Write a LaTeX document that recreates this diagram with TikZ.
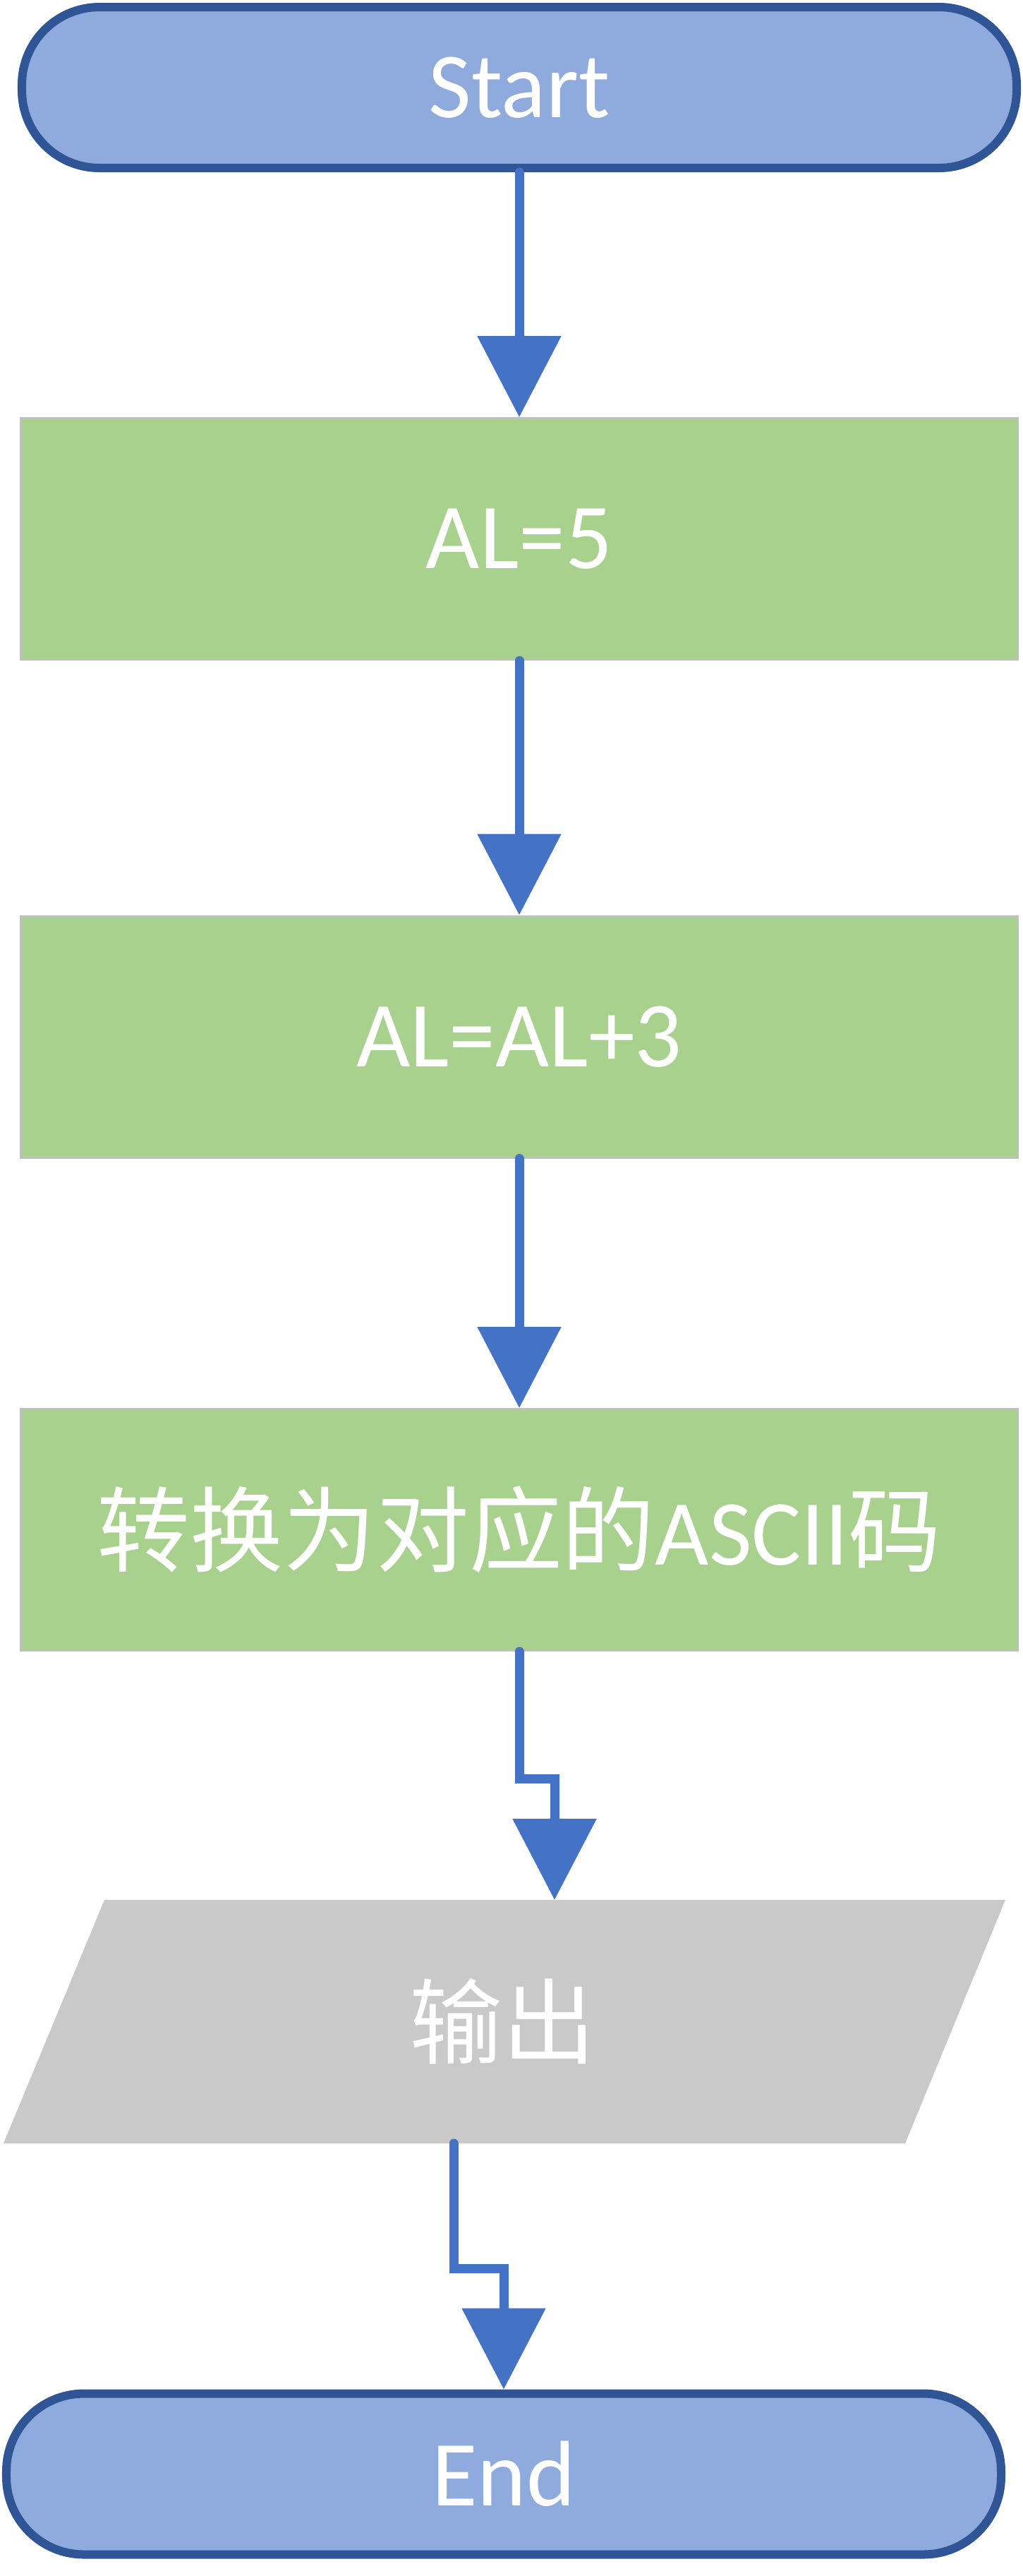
\documentclass[tikz,border=0pt]{standalone}
\usepackage{fontspec}
\setmainfont{Carlito}
\newfontfamily\cjk{Noto Sans CJK SC}
\usetikzlibrary{arrows.meta}
\definecolor{termfill}{HTML}{8FAADC}
\definecolor{termline}{HTML}{2F5597}
\definecolor{flowline}{HTML}{4472C4}
\definecolor{procfill}{HTML}{A9D18E}
\definecolor{procline}{HTML}{BFBFBF}
\definecolor{iofill}{HTML}{C9C9C9}
\begin{document}
\begin{tikzpicture}[every node/.style={text=white,font=\fontsize{37.5}{45}\selectfont},
term/.style={draw=termline,fill=termfill,line width=.12cm,rounded corners=1.1cm,minimum width=14.1cm,minimum height=2.28cm},
proc/.style={draw=procline,fill=procfill,line width=.03cm,minimum width=14.13cm,minimum height=3.42cm},
flow/.style={draw=flowline,line width=.13cm,line cap=round,-{Triangle[width=1.16cm,length=1.15cm]}}]
\useasboundingbox(0,0)rectangle(14.5,-36.5);
\node[term](start)at(7.36,-1.24){Start};
\node[proc](al5)at(7.36,-7.635){AL=5};\node[proc](al3)at(7.36,-14.69){AL=AL+3};\node[proc](conv)at(7.36,-21.675){{\cjk 转换为对应的}ASCII{\cjk 码}};
\fill[iofill](1.48,-26.92)--(14.25,-26.92)--(12.83,-30.37)--(.05,-30.37)--cycle;
\node(out)at(7.12,-28.645){{\cjk 输出}};\node[term](stop)at(7.14,-35.055){End};
\coordinate(outin)at(7.86,-26.92);\coordinate(outex)at(6.43,-30.37);
\draw[flow](start)--(al5);\draw[flow](al5)--(al3);\draw[flow](al3)--(conv);
\draw[flow](conv.south)--++(0,-1.8)-|(outin);\draw[flow](outex)--++(0,-1.77)-|(stop);
\end{tikzpicture}
\end{document}
